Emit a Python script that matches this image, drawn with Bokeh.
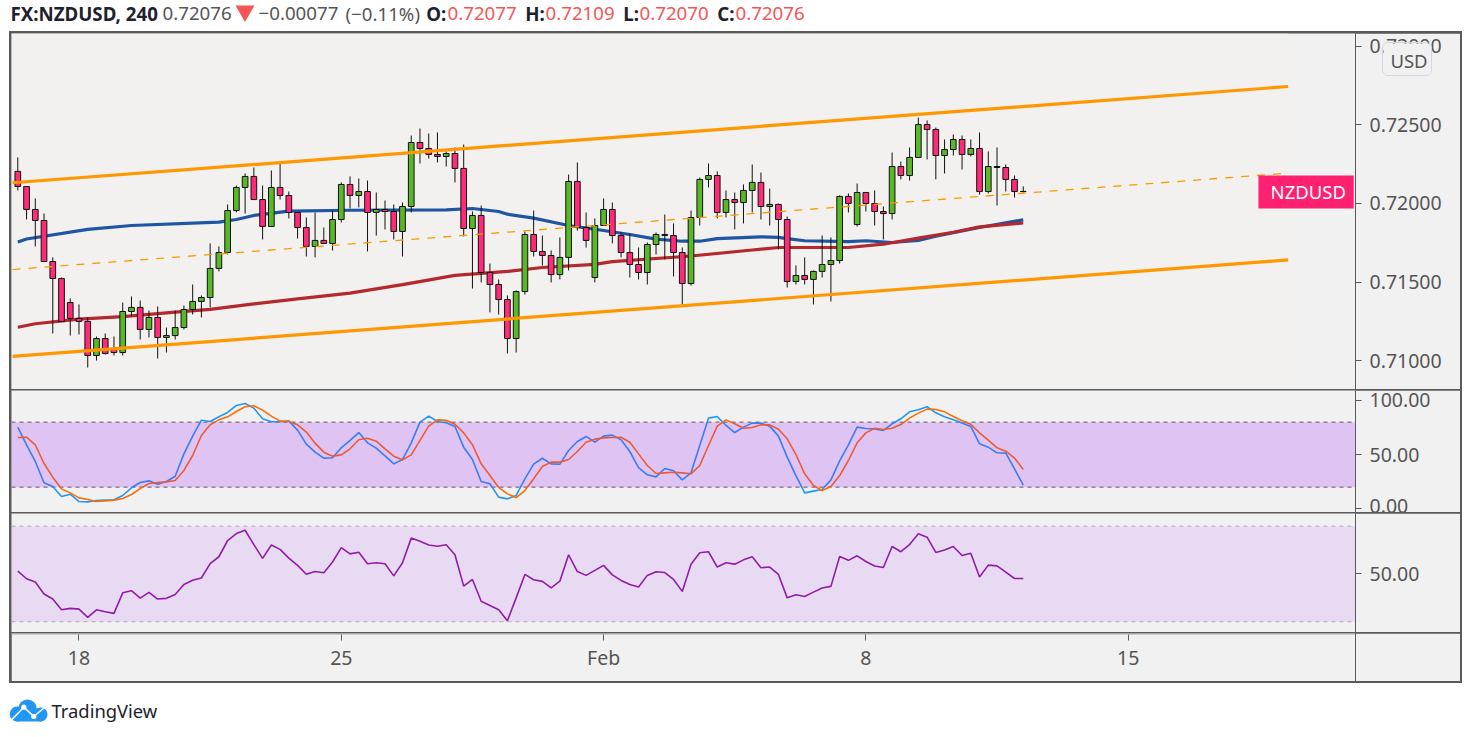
import numpy as np
from bokeh.core.properties import value
from bokeh.embed import file_html
from bokeh.resources import INLINE
from bokeh.plotting import figure
from bokeh.layouts import column
from bokeh.models import (ColumnDataSource, Range1d, LinearAxis, FixedTicker, NumeralTickFormatter,
                          BoxAnnotation, Span, Label, Div)

# Quotes in 1/100000 of a dollar
open_q = [72204,72108,71962,71892,71631,71523,71370,71269,71250,71033,71141,71071,71052,71313,71339,71199,71275,71148,71160,71211,
          71326,71377,71402,71587,71688,71955,72102,72172,72025,71854,72102,72051,71943,71847,71727,71765,71746,71898,72121,72051,
          72076,71943,71962,71949,71822,71981,72388,72350,72312,72299,72318,72223,71841,71924,71561,71485,71389,71141,71440,71803,
          71695,71669,71548,71657,72140,71847,71529,71860,71962,71796,71688,71612,71561,71739,71796,71796,71688,71491,71911,72153,
          72178,71943,72025,72006,72083,72134,71981,71994,71898,71504,71542,71517,71568,71612,71637,72045,71866,72070,72000,71949,
          71936,72235,72178,72293,72502,72471,72305,72343,72407,72312,72350,72076,72235,72229,72153,72077]
high_q = [72293,72108,72032,71936,71657,71529,71396,71358,71275,71154,71173,71154,71370,71409,71383,71319,71345,71211,71319,71351,
          71485,71415,71746,71727,71994,72114,72191,72229,72114,72210,72254,72076,71943,71911,71943,71847,71955,72134,72172,72159,
          72146,72070,72019,71994,72006,72432,72477,72445,72452,72331,72356,72375,71949,71987,71618,71517,71415,71447,71822,71955,
          71796,71701,71784,72184,72261,71943,71905,72032,72006,71816,71809,71720,71752,71816,71930,71873,71720,71955,72165,72254,
          72204,72083,72070,72121,72248,72197,72095,72000,71917,71606,71657,71574,71796,71784,72051,72064,72127,72070,72083,71981,
          72324,72267,72356,72547,72528,72483,72407,72439,72432,72407,72452,72331,72356,72248,72178,72109]
low_q = [72083,71898,71727,71631,71173,71250,71160,71167,70957,71001,71040,71033,71033,71281,71135,71148,71014,71052,71135,71199,
         71294,71275,71339,71568,71676,71943,71936,72025,71771,71854,72025,71905,71777,71663,71657,71746,71701,71879,71968,71975,
         71695,71796,71835,71771,71663,71943,72254,72286,72261,72235,72134,71790,71459,71498,71307,71294,71046,71052,71421,71663,
         71606,71498,71517,71574,71828,71720,71498,71860,71746,71657,71529,71517,71485,71676,71644,71536,71358,71478,71860,72102,
         71905,71911,71835,71873,71943,71898,71860,71707,71466,71485,71485,71358,71529,71377,71618,71943,71854,71949,71860,71771,
         71898,72153,72146,72293,72280,72153,72191,72305,72216,72299,72057,72064,71987,72076,72038,72070]
close_q = [72108,71962,71892,71631,71523,71250,71269,71250,71033,71141,71046,71052,71313,71339,71199,71275,71148,71160,71211,71326,
           71377,71402,71587,71688,71955,72102,72172,72025,71854,72102,72051,71943,71847,71727,71765,71746,71898,72121,72051,72076,
           71943,71962,71949,71822,71981,72388,72350,72312,72299,72318,72223,71841,71924,71561,71485,71389,71141,71440,71803,71695,
           71669,71548,71657,72140,71847,71765,71860,71962,71796,71688,71612,71561,71739,71803,71803,71688,71491,71911,72153,72178,
           71943,72025,72006,72083,72134,71981,71994,71898,71504,71542,71517,71568,71612,71637,72045,72000,72070,72000,71949,71936,
           72235,72178,72293,72502,72471,72305,72343,72407,72312,72350,72076,72235,72229,72153,72076,72076]

ma_blue_i = [0,1,8,13,23,25,27,31,38,49,52,55,56,59,63,67,70,73,76,78,80,85,87,88,90,95,97,100,103,105,110,113,115]
ma_blue_q = [71755,71774,71835,71860,71881,71898,71924,71951,71957,71960,71968,71949,71932,71907,71860,71828,71803,71773,71760,71760,
             71777,71788,71784,71777,71763,71758,71763,71752,71765,71792,71847,71877,71896]
ma_red_i = [0,2,7,12,18,22,27,32,38,44,50,56,60,66,68,77,84,87,95,99,103,107,110,115]
ma_red_q = [71213,71235,71265,71281,71309,71326,71362,71393,71430,71484,71543,71568,71593,71613,71630,71666,71704,71720,71720,71741,
            71780,71817,71851,71876]

channel_i = [-0.6, 145.3]
channel_top_q = [72132, 72744]
channel_mid_q = [71580, 72193]
channel_low_q = [71027, 71641]

stoch_k = [75.4,59.1,43.7,24,20.6,11.4,13.5,6.7,6.4,7.7,8,8.3,12.3,19.4,24.3,25.8,22.7,25.2,30.1,50.7,
           67,81.8,80.6,84.9,88.9,95.4,97.2,92.9,83.1,80.3,80.3,81.2,72.6,59.7,52.3,46.8,47.1,56.3,63.1,70.4,
           60.9,56,48.9,41.5,45.5,60.9,80,85.5,80.6,79.4,76,56.9,45.5,25.2,23.1,10.8,9.2,12.3,27.7,41.2,
           46.7,41.5,41.2,53.8,62.1,66.8,61.5,67.1,68,63.7,52.9,38.1,31.4,29.5,37.2,35.1,26.7,33.2,58.4,83.7,
           85.2,76.9,70.4,75.4,79.1,79.1,76.3,67.1,47.7,30.7,14.7,16.3,17.8,26.7,44.3,59.1,75.4,74.1,73.8,72.3,
           78.5,83.1,89.5,91.4,94.2,88.6,84.9,82.1,79.1,76,60,56.9,51.7,51.4,36.9,21.8]
stoch_d = [65.8,66.1,59.1,41.8,29.2,18.4,14.7,10.1,8.6,6.7,7.3,8,9.5,13.2,18.7,23.3,24.3,24.9,26.1,35.4,
           49.2,67.7,77.5,82.1,84.9,89.8,94.2,95.1,91.1,85.5,80.9,80.6,77.5,70.8,60.6,52.3,48.6,49.8,55.4,63.7,
           65.2,62.4,55.4,48.6,45.2,49.8,63.1,76.3,82.1,81.8,78.1,70.1,59.1,41.5,30.7,19.7,13.8,10.4,16.9,27.7,
           39.1,43.1,43.1,45.5,52.9,61.5,64.3,65.5,65.8,66.1,61.5,50.7,40,32.6,33.2,33.8,33.2,32.3,40,58.4,
           76.3,82.1,78.5,74.4,75.1,77.5,77.5,73.5,64.6,50.1,32.3,21.5,16.9,20.6,30.7,44.6,60.9,70.1,74.4,73.2,
           74.4,77.8,83.7,88.3,92,91.7,89.5,85.2,81.2,78.1,70.1,63.4,56.3,53.2,46.8,36.3]
rsi = [51.2,48,46.6,41.6,39.5,35,35.6,35.3,31.8,35,34.2,33.5,42.1,43,39.9,42.3,39.5,39.8,41.4,45.6,
       47.4,48.3,54.3,57.2,64,66.9,68.3,62.3,56.5,62.1,60.3,56.6,53.6,49.9,51,50.5,55,61,58.4,59.1,
       54.3,54.7,54.3,49.2,54.7,65,63.7,62.1,61.6,62.2,58,44.9,47.7,38.6,36.8,35,30.4,40,49.8,47.6,
       46.9,44.2,47,58,51,49.4,51.5,53.6,49.6,47.3,45.6,44.5,49.4,50.9,50.6,47.7,42.7,54.1,58.9,59.3,
       52.9,54.7,54.1,55.9,57.2,52.6,52.9,49.8,40,41.3,40.6,42.4,44.1,44.8,57.3,55.7,57.6,55.2,53.3,52.7,
       61.5,59.3,62.3,66.8,65.4,59,60,61.5,57.7,58.7,48.7,53.7,53.4,50.8,48.1,48.1]

price_ticks = [0.71, 0.715, 0.72, 0.725, 0.73]
stoch_ticks = [0, 50, 100]
rsi_ticks = [50]
stoch_bands = (20, 80)
rsi_bands = (30, 70)
time_ticks = {7: "18", 37: "25", 67: "Feb", 97: "8", 127: "15"}

last_price = 0.72076
header_pieces = [(10, "FX:NZDUSD, 240", "#1e222d", "bold"), (162, "0.72076", "#555555", "normal"),
                 (258, "\u22120.00077", "#555555", "normal"), (345, "(\u22120.11%)", "#555555", "normal"),
                 (425.7, "O:", "#1e222d", "bold"), (447, "0.72077", "#f55555", "normal"),
                 (524.7, "H:", "#1e222d", "bold"), (545, "0.72109", "#f55555", "normal"),
                 (622.7, "L:", "#1e222d", "bold"), (639, "0.72070", "#f55555", "normal"),
                 (716.7, "C:", "#1e222d", "bold"), (735, "0.72076", "#f55555", "normal")]

FONT = "Noto Sans"
BG = "#f1f1f1"
LINE = "#5a5a5a"
TXT = "#555555"
UP = "#5ab728"
DOWN = "#ff2b78"
ORANGE = "#ff9800"
W_TOTAL = 1449
FRAME_W = 1344
X_RANGE = (-0.72, 153.0)


def pane(height, y_start, y_end, ticks=None, fmt=None, min_bottom=0):
    p = figure(width=W_TOTAL, height=height, output_backend="svg", toolbar_location=None,
               x_range=Range1d(*X_RANGE), y_range=Range1d(y_start, y_end),
               x_axis_location=None, y_axis_location=None,
               background_fill_color=BG, border_fill_color=BG, outline_line_color=None,
               min_border_left=0, min_border_top=0, min_border_right=W_TOTAL - FRAME_W, min_border_bottom=min_bottom)
    p.grid.visible = False
    ax = LinearAxis(ticker=FixedTicker(ticks=ticks or []), axis_line_color=LINE, axis_line_width=1,
                    major_tick_line_color=LINE, major_tick_out=6, major_tick_in=0, minor_tick_line_color=None,
                    major_label_text_font=FONT, major_label_text_font_size="19.5px",
                    major_label_text_color=TXT, major_label_standoff=8)
    if fmt:
        ax.formatter = NumeralTickFormatter(format=fmt)
    p.add_layout(ax, "right")
    return p


# ---- header ----
head = figure(width=1471, height=31, output_backend="svg", toolbar_location=None,
              x_range=Range1d(0, 1471), y_range=Range1d(31, 0), x_axis_location=None, y_axis_location=None,
              background_fill_color="white", border_fill_color="white", outline_line_color=None,
              min_border=0)
head.grid.visible = False
for x, t, c, w in header_pieces:
    head.text([x], [13], text=[t], text_color=c, text_font=value(FONT), text_font_size="18.7px",
              text_font_style=w, text_baseline="middle")
head.scatter([244.5], [10.5], marker="inverted_triangle", size=19, color="#f55555", line_color=None)

# ---- price pane ----
opens, highs, lows, closes = [np.array(a) / 1e5 for a in (open_q, high_q, low_q, close_q)]
bars = np.arange(len(opens))
src = ColumnDataSource(dict(x=bars, o=opens, h=highs, l=lows, c=closes,
                            top=np.maximum(opens, closes), bottom=np.minimum(opens, closes),
                            color=[UP if c >= o else DOWN for o, c in zip(opens, closes)]))
p1 = pane(356, 0.708169, 0.730812, price_ticks, "0.00000")
p1.add_layout(BoxAnnotation(right=channel_i[1], fill_color="#f2f1ef", fill_alpha=1, line_alpha=0, level="underlay"))
p1.line(ma_blue_i, np.array(ma_blue_q) / 1e5, line_color="#1f55a3", line_width=3.2)
p1.line(ma_red_i, np.array(ma_red_q) / 1e5, line_color="#b5282e", line_width=3.2)
p1.segment("x", "h", "x", "l", source=src, line_color="#111111", line_width=1)
p1.vbar("x", 0.65, "top", "bottom", source=src, fill_color="color", line_color="#111111", line_width=1)
p1.line(channel_i, np.array(channel_top_q) / 1e5, line_color=ORANGE, line_width=3.2)
p1.line(channel_i, np.array(channel_low_q) / 1e5, line_color=ORANGE, line_width=3.2)
p1.line(channel_i, np.array(channel_mid_q) / 1e5, line_color=ORANGE, line_width=1.3, line_dash="8 8")
p1.add_layout(BoxAnnotation(left=141.9, right=152.8, top=0.72178, bottom=0.71968, fill_color="#ff2070",
                            fill_alpha=1, line_alpha=0))
p1.add_layout(Label(x=147.6, y=last_price, text="NZDUSD", text_color="white", text_font=FONT,
                    text_font_size="18.5px", text_align="center", text_baseline="middle"))

# ---- stochastic pane ----
p2 = pane(122, -3.4, 109.2, stoch_ticks, "0.00")
for lvl in stoch_bands:
    p2.add_layout(Span(location=lvl, dimension="width", line_color=LINE, line_width=1, line_dash="4 4", level="underlay"))
p2.line(bars, stoch_k, line_color="#2196f3", line_width=1.6)
p2.line(bars, stoch_d, line_color="#ff6d00", line_width=1.6)
p2.add_layout(BoxAnnotation(bottom=stoch_bands[0], top=stoch_bands[1], fill_color="#9915ff", fill_alpha=0.2, line_alpha=0))

# ---- RSI pane ----
p3 = pane(119, 25.5, 75.3, rsi_ticks, "0.00")
for lvl in rsi_bands:
    p3.add_layout(Span(location=lvl, dimension="width", line_color="#b4adb9", line_width=1, line_dash="4 4", level="underlay"))
p3.line(bars, rsi, line_color="#8f1f9f", line_width=1.6)
p3.add_layout(BoxAnnotation(bottom=rsi_bands[0], top=rsi_bands[1], fill_color="#9915ff", fill_alpha=0.1, line_alpha=0))

# ---- time axis pane ----
p4 = figure(width=W_TOTAL, height=48, output_backend="svg", toolbar_location=None,
            x_range=Range1d(*X_RANGE), y_range=Range1d(0, 1), x_axis_location=None, y_axis_location=None,
            background_fill_color=BG, border_fill_color=BG, outline_line_color=None,
            min_border_left=0, min_border_top=0, min_border_right=W_TOTAL - FRAME_W, min_border_bottom=47)
p4.grid.visible = False
xax = LinearAxis(ticker=FixedTicker(ticks=list(time_ticks)), major_label_overrides=time_ticks,
                 axis_line_color=None, major_tick_line_color=LINE, major_tick_out=6, major_tick_in=0,
                 minor_tick_line_color=None, major_label_text_font=FONT, major_label_text_font_size="19.5px",
                 major_label_text_color=TXT, major_label_standoff=3)
p4.add_layout(xax, "below")
p4.line([0], [0], line_alpha=0)

# ---- footer ----
foot = figure(width=1471, height=54, output_backend="svg", toolbar_location=None,
              x_range=Range1d(0, 1471), y_range=Range1d(737, 683), x_axis_location=None, y_axis_location=None,
              background_fill_color="white", border_fill_color="white", outline_line_color=None, min_border=0)
foot.grid.visible = False
LOGO = "#2196f3"
foot.circle([16.7, 27, 40], [713.5, 708.3, 714], radius=[7.5, 9.3, 7], fill_color=LOGO, line_color=None)
foot.patch([16, 16, 41, 41], [712, 721, 721, 712], fill_color=LOGO, line_color=None)
foot.line([10, 23.3, 33.3, 44], [720.5, 706.7, 716, 707], line_color="white", line_width=1.6)
foot.circle([23.3, 33.3], [706.7, 716], radius=2.6, fill_color="white", line_color=None)
foot.text([51], [709.5], text=["TradingView"], text_color="#1e222d", text_font=value(FONT),
          text_font_size="18.4px", text_baseline="middle")

# ---- currency badge, laid over the price scale ----
usd = figure(width=50, height=34, output_backend="svg", toolbar_location=None,
             x_range=Range1d(0, 50), y_range=Range1d(34, 0), x_axis_location=None, y_axis_location=None,
             background_fill_color=BG, border_fill_color=BG, outline_line_color=None, min_border=0,
             styles={"position": "absolute", "left": "1382px", "top": "42px", "border": "1px solid #d6d6e0",
                     "border-radius": "6px", "overflow": "hidden"})
usd.grid.visible = False
usd.text([25.5], [17], text=["USD"], text_color=TXT, text_font=value(FONT), text_font_size="18.5px",
         text_align="center", text_baseline="middle")

time_rule = Div(text="", width=1, height=49, margin=0,
                styles={"position": "absolute", "left": "1355px", "top": "633px", "background": LINE})

panes = column(p1, p2, p3, p4, spacing=1, margin=(0, 0, 0, 9),
               styles={"background": LINE, "border": "2px solid " + LINE, "box-sizing": "content-box"})
root = column(head, panes, foot, usd, time_rule, spacing=0, margin=0,
              styles={"position": "absolute", "left": "0px", "top": "0px"})

open("out.html", "w").write(file_html(root, INLINE))
